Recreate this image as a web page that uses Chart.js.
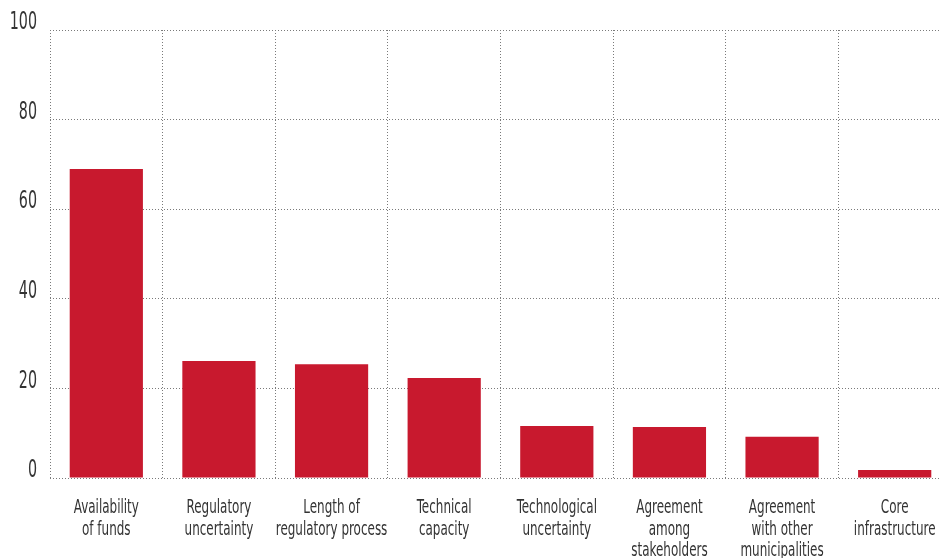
<!DOCTYPE html>
<html>
<head>
<meta charset="utf-8">
<script src="https://cdn.jsdelivr.net/npm/chart.js@4/dist/chart.umd.min.js"></script>
<style>
html,body{margin:0;padding:0;background:#fff;overflow:hidden;width:941px;height:558px;}
#c{display:block;}
</style>
</head>
<body>
<canvas id="c" width="960" height="558"></canvas>
<script>
const categories = [
  ["Availability","of funds"],
  ["Regulatory","uncertainty"],
  ["Length of","regulatory process"],
  ["Technical","capacity"],
  ["Technological","uncertainty"],
  ["Agreement","among","stakeholders"],
  ["Agreement","with other","municipalities"],
  ["Core","infrastructure"]
];
const values = [69.0, 26.1, 25.4, 22.3, 11.6, 11.4, 9.2, 1.8];
const yTicks = [0, 20, 40, 60, 80, 100];

const FONT = "'DejaVu Sans Condensed','DejaVu Sans',sans-serif";

const canvas = document.getElementById('c');
const ctx = canvas.getContext('2d');
// condensed-looking text: compress glyphs horizontally around the anchor point
const origFillText = ctx.fillText.bind(ctx);
ctx.fillText = function (t, x, y, mw) {
  const k = /24px/.test(this.font) ? 0.66 : 0.665;
  this.save();
  this.translate(x, y);
  this.scale(k, 1);
  if (mw !== undefined) origFillText(t, 0, 0, mw / k); else origFillText(t, 0, 0);
  this.restore();
};

new Chart(ctx, {
  type: 'bar',
  data: {
    labels: categories,
    datasets: [{
      data: values,
      backgroundColor: '#c8192e',
      borderWidth: 0,
      barPercentage: 0.65,
      categoryPercentage: 1.0
    }]
  },
  options: {
    responsive: false,
    animation: false,
    devicePixelRatio: 1,
    layout: { padding: { top: 30, right: 9, left: 0, bottom: 0 } },
    plugins: { legend: { display: false }, tooltip: { enabled: false } },
    scales: {
      x: {
        offset: true,
        grid: { display: true, offset: true, color: '#7a7a7a', lineWidth: 1, drawTicks: false },
        border: { display: false },
        ticks: {
          color: '#333333',
          font: { family: FONT, size: 20, lineHeight: 1.08 },
          padding: 19,
          maxRotation: 0,
          minRotation: 0,
          autoSkip: false
        },
        afterFit(s) { s.height = 80; s.paddingLeft = 0; s.paddingRight = 0; }
      },
      y: {
        min: 0, max: 100,
        afterBuildTicks(s) { s.ticks = yTicks.map(v => ({ value: v })); },
        grid: { color: '#7a7a7a', lineWidth: 1, drawTicks: false },
        border: { display: false },
        ticks: {
          color: '#333333',
          font: { family: FONT, size: 24, lineHeight: '14px' },
          padding: 13,
          callback: (v) => [String(v), '']
        },
        afterFit(s) { s.width = 50; s.paddingTop = 0; s.paddingBottom = 0; }
      }
    }
  },
  plugins: [{
    id: 'dashSetter',
    beforeInit(chart) {
      const g = chart.options.scales;
      g.x.border.dash = [1, 2];
      g.y.border.dash = [1, 2];
    },
    beforeDraw(chart) {
      chart.options.scales.x.grid.borderDash = [1, 2];
    }
  }]
});
</script>
</body>
</html>
